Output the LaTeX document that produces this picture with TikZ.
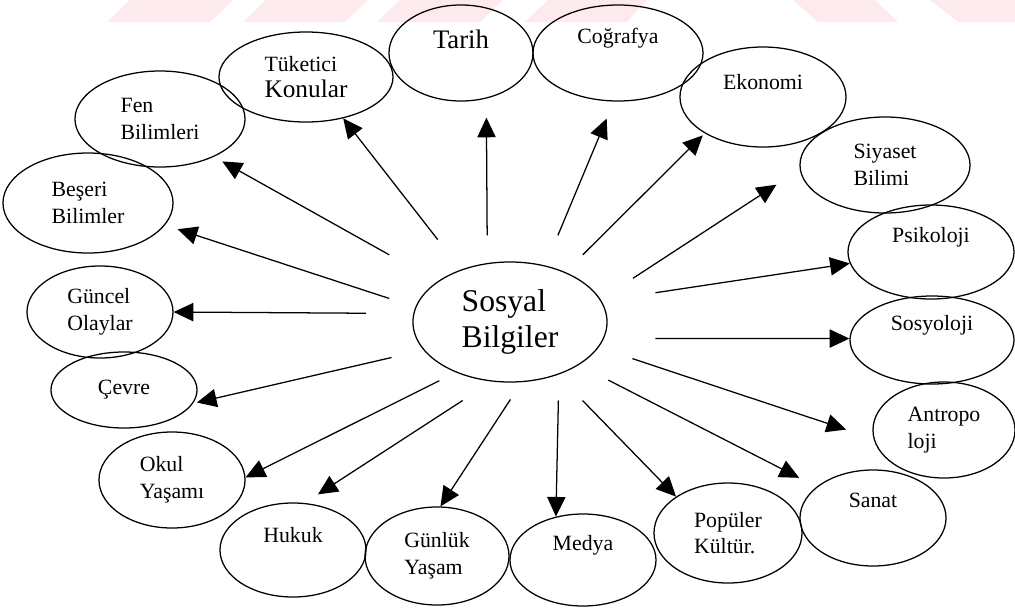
\documentclass[tikz,border=0pt]{standalone}
\usepackage{fontspec}
\setmainfont{Liberation Serif}
\usepackage{tikz}
\usetikzlibrary{shapes.geometric,arrows.meta}
\definecolor{wmpink}{RGB}{253,234,237}

\begin{document}
\begin{tikzpicture}[x=0.025cm,y=-0.025cm,
    bub/.style={ellipse,draw,line width=0.9pt,inner sep=1pt,align=left,font=\fontsize{15.5}{19}\selectfont},
    arr/.style={line width=0.9pt,-{Triangle[length=14pt,width=13pt]}}]
            \useasboundingbox (0,0) rectangle (1015,607);
            % faint stripes along the top
            \fill[wmpink] (107,22) -- (210,22) -- (233,0) -- (130,0) -- cycle;
            \fill[wmpink] (243,22) -- (345,22) -- (368,0) -- (266,0) -- cycle;
            \fill[wmpink] (377,22) -- (480,22) -- (503,0) -- (400,0) -- cycle;
            \fill[wmpink] (525,22) -- (627,22) -- (647,0) -- (548,0) -- cycle;
            \fill[wmpink] (818,22) -- (898,22) -- (875,0) -- (793,0) -- cycle;
            \fill[wmpink] (958,22) -- (1015,22) -- (1015,0) -- (930,0) -- cycle;

            \node[bub,minimum width=4.85cm,minimum height=3cm,font=\fontsize{22.5}{26}\selectfont] (sb) at (510,322) {Sosyal\\Bilgiler};

            \node[bub,minimum width=4.35cm,minimum height=2.25cm] (tuk) at (306,77) {Tüketici\\{\fontsize{18}{20}\selectfont Konular}};
            \node[bub,minimum width=3.6cm,minimum height=2.4cm,font=\fontsize{19}{21}\selectfont] (tarih) at (461,53) {Tarih\\[-8pt]\strut};
            \node[bub,minimum width=4.25cm,minimum height=2.4cm] (cog) at (618,53) {Coğrafya\\\strut};
            \node[bub,minimum width=4.15cm,minimum height=2.5cm] (eko) at (763,97) {Ekonomi\\[-3pt]\strut};
            \node[bub,minimum width=4.25cm,minimum height=2.4cm] (siy) at (885,165) {Siyaset\\Bilimi};
            \node[bub,minimum width=4.15cm,minimum height=2.35cm] (psi) at (931,252) {Psikoloji\\\strut};
            \node[bub,minimum width=4.1cm,minimum height=2.2cm] (sosyo) at (932,340) {Sosyoloji\\\strut};
            \node[bub,minimum width=3.55cm,minimum height=2.4cm] (ant) at (944,430) {Antropo\\loji};
            \node[bub,minimum width=3.65cm,minimum height=2.4cm] (san) at (873,518) {Sanat\\\strut};
            \node[bub,minimum width=3.7cm,minimum height=2.5cm] (pop) at (728,533) {Popüler\\Kültür.};
            \node[bub,minimum width=3.65cm,minimum height=2.3cm] (med) at (583,560) {Medya\\\strut};
            \node[bub,minimum width=3.6cm,minimum height=2.45cm] (gun) at (437,556) {Günlük\\Yaşam};
            \node[bub,minimum width=3.65cm,minimum height=2.35cm] (huk) at (293,550) {Hukuk\\[-3pt]\strut};
            \node[bub,minimum width=3.65cm,minimum height=2.4cm] (okul) at (172,480) {Okul\\Yaşamı};
            \node[bub,minimum width=3.65cm,minimum height=1.9cm] (cev) at (124,390) {Çevre};
            \node[bub,minimum width=3.65cm,minimum height=2.3cm] (gunc) at (100,312) {Güncel\\Olaylar};
            \node[bub,minimum width=4.25cm,minimum height=2.5cm] (bes) at (88,203) {Beşeri\\Bilimler};
            \node[bub,minimum width=4.25cm,minimum height=2.4cm] (fen) at (160,119) {Fen\\Bilimleri};

            \path[arr] (sb.133) edge[shorten <=27pt] (tuk.-48)
                       (sb.111) edge[shorten <=19.7pt,shorten >=13.5pt] (tarih.-61)
                       (sb.58) edge[shorten <=23.2pt,shorten >=13.1pt] (cog.-95)
                       (sb.42) edge[shorten <=17.5pt,shorten >=2pt] (eko.-148)
                       (sb.14.5) edge[shorten <=27.5pt,shorten >=19.8pt] (siy.183)
                       (sb.13) edge[shorten <=38.8pt] (psi.188)
                       (sb.-10) edge[shorten <=36.6pt] (sosyo.179)
                       (sb.-16) edge[shorten <=25.3pt,shorten >=20.5pt] (ant.187)
                       (sb.-32.5) edge[shorten <=23.5pt,shorten >=13.9pt] (san.151)
                       (sb.-48) edge[shorten <=25.4pt] (pop.145)
                       (sb.-47) edge[shorten <=18.5pt] (med.122)
                       (sb.-79.5) edge[shorten <=14.6pt] (gun.86)
                       (sb.-107) edge[shorten <=24.7pt,shorten >=11.2pt] (huk.76)
                       (sb.-137.5) edge[shorten <=13.2pt] (okul.2)
                       (sb.-162) edge[shorten <=23.3pt,shorten >=2.8pt] (cev.-11)
                       (sb.175) edge[shorten <=33.5pt] (gunc.0)
                       (sb.171) edge[shorten <=19.6pt,shorten >=9.4pt] (bes.-16)
                       (sb.151) edge[shorten <=39pt,shorten >=6.8pt] (fen.-35);
\end{tikzpicture}
\end{document}
